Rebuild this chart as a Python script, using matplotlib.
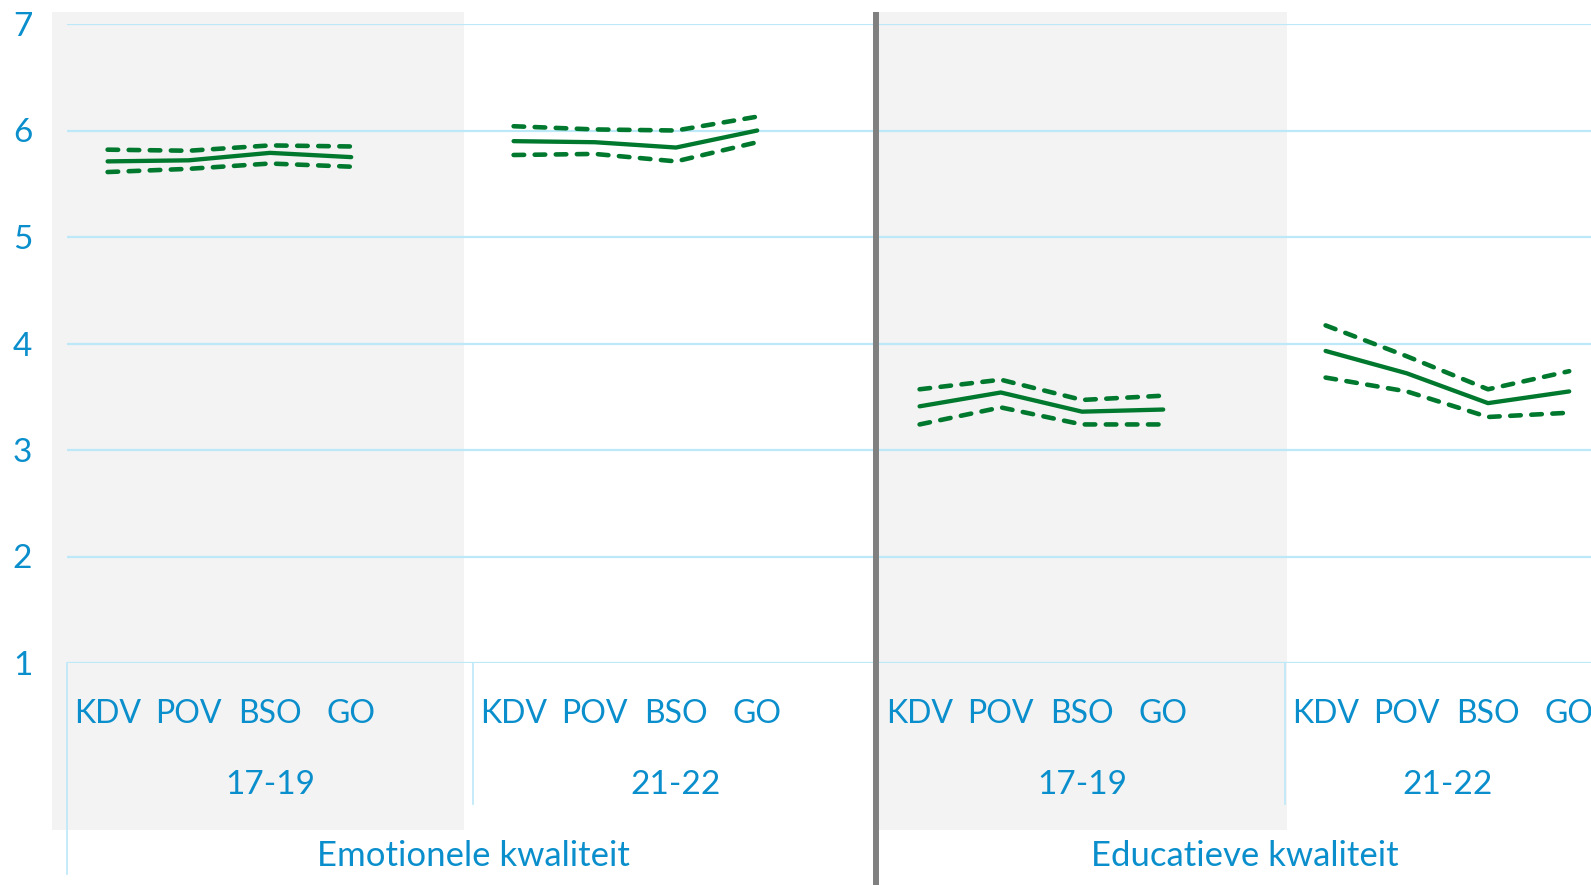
"""Emotionele en educatieve kwaliteit per opvangvorm, 17-19 vs 21-22."""

import matplotlib.pyplot as plt

plt.rcParams["font.family"] = ["Lato", "DejaVu Sans"]

categories = ["KDV", "POV", "BSO", "GO"]
periods = ["17-19", "21-22"]
groups = ["Emotionele kwaliteit", "Educatieve kwaliteit"]

emo_1719_mean = [5.71, 5.72, 5.79, 5.75]
emo_1719_hi = [5.82, 5.81, 5.86, 5.85]
emo_1719_lo = [5.61, 5.64, 5.69, 5.66]
emo_2122_mean = [5.90, 5.89, 5.84, 6.00]
emo_2122_hi = [6.04, 6.01, 6.00, 6.13]
emo_2122_lo = [5.77, 5.78, 5.71, 5.89]
edu_1719_mean = [3.41, 3.54, 3.36, 3.38]
edu_1719_hi = [3.57, 3.66, 3.47, 3.51]
edu_1719_lo = [3.24, 3.40, 3.24, 3.24]
edu_2122_mean = [3.93, 3.72, 3.44, 3.55]
edu_2122_hi = [4.17, 3.88, 3.57, 3.74]
edu_2122_lo = [3.68, 3.55, 3.31, 3.35]

blocks = [
    (emo_1719_mean, emo_1719_lo, emo_1719_hi),
    (emo_2122_mean, emo_2122_lo, emo_2122_hi),
    (edu_1719_mean, edu_1719_lo, edu_1719_hi),
    (edu_2122_mean, edu_2122_lo, edu_2122_hi),
]

BLUE = "#0A8FCC"
GRID = "#BCE8F8"
GREEN = "#00792E"
SLOTS = 5  # 4 categories + one empty slot per period

fig = plt.figure(figsize=(15.91, 8.85), dpi=100)
ax = fig.add_axes([67 / 1591, 222 / 885, 1524 / 1591, 639 / 885])
ax.set_xlim(0, 1524 / 81.2)
ax.set_ylim(1, 7)

# shaded periods
xt = ax.get_xaxis_transform()
ax.axvspan(-0.19, 4.89, ymin=-0.261, ymax=1.019, color="#F3F3F3",
           clip_on=False, zorder=0, lw=0)
ax.axvspan(10.0, 15.02, ymin=-0.261, ymax=1.019, color="#F3F3F3",
           clip_on=False, zorder=0, lw=0)

ax.set_yticks(range(1, 8))
ax.set_yticklabels([str(v) for v in range(1, 8)], fontsize=24, color=BLUE)
ax.tick_params(axis="y", length=0, pad=25)
ax.set_xticks([])
ax.grid(True, axis="y", color=GRID, lw=1.6)
ax.set_axisbelow(True)
for s in ax.spines.values():
    s.set_visible(False)

dash = (0, (2.3, 2.3))
for b, (mean, lo, hi) in enumerate(blocks):
    xs = [b * SLOTS + i + 0.5 for i in range(len(categories))]
    ax.plot(xs, mean, color=GREEN, lw=3.1, solid_capstyle="round", zorder=3)
    for series in (lo, hi):
        ax.plot(xs, series, color=GREEN, lw=3.3, linestyle=dash,
                dash_capstyle="round", zorder=3)
    for x, cat in zip(xs, categories):
        ax.text(x, -0.080, cat, transform=xt, ha="center", va="center",
                fontsize=23, color=BLUE)

# multi-level category axis: dividers
ax.plot([0, 0], [0, -0.33], transform=xt, color=GRID, lw=1.2, clip_on=False)
ax.plot([5, 5], [0, -0.22], transform=xt, color=GRID, lw=1.2, clip_on=False)
ax.plot([15, 15], [0, -0.22], transform=xt, color=GRID, lw=1.2, clip_on=False)
ax.plot([9.96, 9.96], [1.019, -0.4], transform=xt, color="#808080", lw=4.3,
        clip_on=False, zorder=5, solid_capstyle="butt")

# period and group labels (group 2 centred on its visible part)
period_x = [2.5, 7.5, 12.5, 17.0]
for x, lab in zip(period_x, periods * 2):
    ax.text(x, -0.191, lab, transform=xt, ha="center", va="center",
            fontsize=24, color=BLUE)
group_x = [5.0, 14.5]
for x, lab in zip(group_x, groups):
    ax.text(x, -0.302, lab, transform=xt, ha="center", va="center",
            fontsize=25, color=BLUE)

fig.savefig("out.png", dpi=100)
plt.close(fig)
